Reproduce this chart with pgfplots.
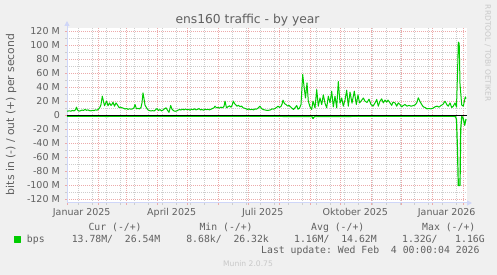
\documentclass[border=0pt]{standalone}
\usepackage{pgfplots}
\pgfplotsset{compat=1.18}
\usepackage{fontspec}
\setmainfont{DejaVu Sans}
\newfontfamily\monofont{DejaVu Sans Mono}
\usetikzlibrary{arrows.meta}
\definecolor{bg}{HTML}{F0F0F0}
\definecolor{txt}{HTML}{606060}
\definecolor{faint}{HTML}{C8C8C8}
\definecolor{axiscol}{HTML}{CFD6F8}
\definecolor{gridred}{RGB}{236,170,170}
\definecolor{gridgray}{RGB}{205,205,205}
\definecolor{munin}{HTML}{00CC00}
\begin{document}
\begin{tikzpicture}[x=1pt,y=1pt]
\fill[bg] (0,0) rectangle (497,275);
\begin{axis}[
  at={(67pt,72pt)}, anchor=south west,
  scale only axis, width=400pt, height=175pt,
  xmin=0, xmax=400, ymin=-125, ymax=125,
  axis x line=bottom, axis y line=left,
  axis background/.style={fill=white},
  x axis line style={draw=axiscol, line width=1pt, -{Triangle[length=5pt,width=5pt]}, shorten >=-5pt},
  y axis line style={draw=axiscol, line width=1pt, -{Triangle[length=5pt,width=5pt]}, shorten >=-7pt},
  /pgf/number format/assume math mode=true,
  xtick={0,31,59,90,120,151,181,212,243,273,304,334,365,396},
  xticklabel={\vphantom{J}},
  minor xtick={11,25,39,53,67,81,95,109,123,137,151,165,179,193,207,221,235,249,263,277,291,305,319,333,347,361,375,389},
  extra x ticks={14.7,104.7,195.7,288.3,379.7},
  extra x tick labels={Januar 2025,April 2025,Juli 2025,Oktober 2025,Januar 2026},
  extra x tick style={grid=none, major tick length=0pt},
  ytick={-120,-100,-80,-60,-40,-20,0,20,40,60,80,100,120},
  yticklabels={-120 M,-100 M,-80 M,-60 M,-40 M,-20 M,0\hspace{6.7pt},20 M,40 M,60 M,80 M,100 M,120 M},
  minor ytick={-110,-90,-70,-50,-30,-10,10,30,50,70,90,110},
  grid=both,
  major grid style={draw=gridred, line width=0.65pt, dash pattern=on 1pt off 1pt},
  minor grid style={draw=gridgray, line width=0.65pt, dash pattern=on 1pt off 1pt},
  tick align=outside,
  major tick length=2pt, minor tick length=2pt,
  major tick style={draw=gridred, line width=0.7pt},
  minor tick style={draw=gridgray, line width=0.7pt},
  tick label style={font=\fontsize{9.5}{11}\selectfont, text=txt},
  xticklabel style={anchor=base, inner sep=0pt, yshift=-12.3pt},
  yticklabel style={anchor=east, inner sep=0pt, xshift=-5pt},
  legend style={at={(axis description cs:-0.1325,-0.2086)}, anchor=west, draw=none, fill=none, inner sep=0pt,
    nodes={inner sep=0pt}, font=\monofont\fontsize{9.8}{11}\selectfont, text=txt},
  legend cell align=left,
  clip=false,
]
\addplot[munin, line width=1.2pt, line join=round, forget plot] coordinates {
(0,-1.1)(40,-1.3)(80,-1.0)(120,-1.2)(160,-1.1)(200,-1.2)(235,-1.4)(245,-1.5)(246,-4.3)(247.5,-1.4)(280,-1.3)(320,-1.2)(360,-1.1)(388.5,-1.3)(389.5,-6)(390.5,-50)(391.3,-100)(393,-100)(393.7,-20)(394.7,-1.5)(396,-3)(397.7,-14)(399,-5)
};
\addplot[black, line width=1pt, forget plot] coordinates {(0,0)(400,0)};
\addplot[munin, line width=1pt, line join=round,
  legend image code/.code={\fill[munin] (0pt,-2.75pt) rectangle (5.5pt,2.75pt); \path (11.8pt,0pt);}] coordinates {
(0,6.1)(2,6.6)(4,6.3)(5.5,7.2)(7,6.6)(8.5,8.2)(9.5,11.9)(10.5,8)(12,6.2)(13.5,6.8)(15,7.8)(16.5,7.2)(18,8.6)(19.5,7.4)(21,8)(22.5,7)(24,6.6)(25.5,7.4)(27,7)(28.5,8)(30,7.6)(31.5,9)(33,12)(34,15.7)(35.3,27.6)(36.5,20)(37.5,14)(38.5,17)(39.7,20.5)(41,13.8)(42.5,18)(44,14.3)(45,16)(46,19)(47.5,13.3)(49,18)(50.5,15)(52,11.4)(53.5,12)(55,11)(56.5,10.4)(58,9.2)(59.5,10)(61,8.8)(62.5,9.6)(64,9)(65.5,9.4)(67,11)(68,15.7)(69.5,9.5)(71,10.2)(72.5,9.4)(74,11.5)(75,18)(76,32.4)(77,24)(78,15)(79.5,11)(81,8)(82.5,7)(84,6.5)(85.5,7)(87,6.4)(88.5,8)(90,10)(91.5,7.2)(93,8.5)(94.5,6.6)(96,7.8)(97.5,9.5)(99,11)(100.5,7.5)(102,4.5)(103.7,14.3)(105,9)(106.5,7)(108,6)(109.5,6.4)(111,7.6)(112.5,8.6)(114,7.8)(115.5,9)(117,8)(118.5,9.3)(120,8.2)(121.5,8.8)(123,7.6)(124.5,9)(126,8.2)(127.5,9.6)(129,8)(130.5,8.8)(132,9.8)(133.5,8)(135,8.6)(136.5,7.6)(138,9)(139.5,8.2)(141,8.8)(142.5,8)(144,9)(145.5,10)(147,11)(148,13.3)(149.5,11)(151,11.6)(152.5,10.6)(154,12)(155.5,11)(157,13)(158,20.5)(159.5,11)(161,12.5)(162.5,13.8)(164,11.8)(165.2,15)(166.3,20.5)(167.5,17)(168.5,15.7)(170,13.3)(171.5,14.5)(173,12.5)(174.5,13.5)(176,11)(177.5,10.5)(179,9.6)(180.5,8.6)(182,9.4)(183.5,8.2)(185,8.8)(186.5,8)(188,9.4)(189.5,9)(191,10.5)(193,13.3)(194.5,10)(196,8.6)(197.5,8)(199,7.6)(200.5,7.2)(202,7.6)(203.5,8)(205,9.5)(206.5,9)(208,10)(209.5,11.5)(211,13.3)(212.5,11.6)(214,13)(215,16)(216,21.9)(217.5,17)(219,15.7)(220.5,13.5)(222,14.5)(223.5,12.4)(225,10.4)(226.5,8.6)(228,11)(229.7,14.3)(231,9)(232.5,10.5)(234,15.7)(235.7,58.6)(237,41.9)(238.5,25)(240,46.7)(241.3,20.5)(243,12.4)(244.7,8.6)(246,20.5)(248,11)(249.7,37)(251.3,13.3)(253,25)(254.7,15.7)(256.3,29.5)(258,17.6)(259.7,11)(261.3,27.6)(263,18)(264.7,34.8)(266.3,12.4)(268,27.6)(269.7,11)(271.3,48.6)(273,17.6)(274.7,25)(276.3,13.3)(278,22)(279.7,36.2)(281.3,13.3)(283,33.3)(285,17.6)(287.3,34.8)(289.3,15.7)(291,29.5)(292.5,18)(294,20.5)(296.3,25)(298,20.5)(300,18.6)(302,23.3)(304,15.7)(306,13.3)(308,18)(309.7,22.9)(311.3,13.3)(313,20.5)(314.7,23.8)(316.3,18)(318,22)(319.7,19)(321,22)(323,18)(324.7,14.5)(326,19)(328,18)(329.7,13.3)(331.3,18)(333,15.7)(334.7,12.4)(336,14)(338,15.7)(340,13.3)(342,14.5)(344,13.3)(346,14)(348,15)(349.7,18)(351.3,25.2)(353,20)(354.7,15.7)(356.3,12.4)(358,11.4)(360,9.5)(362,10)(364,9.5)(366,10.5)(368,12.4)(370,13.3)(372,12)(374,14.3)(376,16)(378,20.5)(379.7,15.7)(381.3,13.3)(383,18)(384.7,11.4)(386.3,13.3)(388,18)(389.5,12)(390.5,60)(391.3,104.8)(392.2,103)(393,45)(394.7,15)(396.3,13.3)(398.3,26.7)(399,24)
};
\addlegendentry{bps}
\end{axis}
\node[anchor=base, font=\fontsize{12.3}{14}\selectfont, text=txt] at (247.5,251) {ens160 traffic - by year};
\node[rotate=90, anchor=base, font=\fontsize{10.8}{12}\selectfont, text=txt] at (14,160.5) {bits in (-) / out (+) per second};
\node[rotate=-90, anchor=center, font=\fontsize{7.5}{9}\selectfont, text=faint] at (487.7,221.7) {RRDTOOL / TOBI OETIKER};
\node[anchor=base, font=\fontsize{7.6}{9}\selectfont, text=faint] at (248,8.3) {Munin 2.0.75};
\begin{scope}[every node/.style={anchor=base west, inner sep=0pt, font=\monofont\fontsize{9.8}{11}\selectfont, text=txt}]
\node at (88.3,44) {Cur (-/+)};
\node at (199.3,44) {Min (-/+)};
\node at (311,44) {Avg (-/+)};
\node at (422,44) {Max (-/+)};
\node at (71.6,32.5) {13.78M/~~26.54M};
\node at (186.1,32.5) {8.68k/~~26.32k};
\node at (293.9,32.5) {1.16M/~~14.62M};
\node at (401.9,32.5) {1.32G/~~~1.16G};
\node at (261,21) {Last update:~Wed~Feb~~4~00:00:04~2026};
\end{scope}
\pgfresetboundingbox
\path (0,0) rectangle (497,275);
\end{tikzpicture}
\end{document}
